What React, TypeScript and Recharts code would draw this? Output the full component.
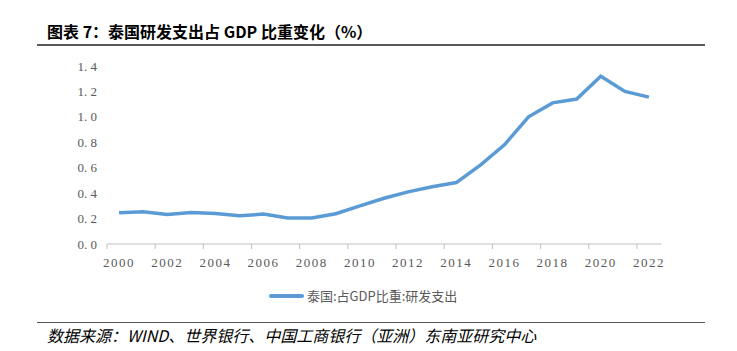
import { CartesianGrid, Line, LineChart, XAxis, YAxis } from "recharts";

const years = [
  "2000", "2001", "2002", "2003", "2004", "2005", "2006", "2007", "2008",
  "2009", "2010", "2011", "2012", "2013", "2014", "2015", "2016", "2017",
  "2018", "2019", "2020", "2021", "2022",
];

const rdShare = [
  0.245, 0.253, 0.232, 0.248, 0.24, 0.222, 0.235, 0.204, 0.204, 0.238, 0.3,
  0.36, 0.41, 0.45, 0.483, 0.62, 0.78, 1.0, 1.11, 1.14, 1.32, 1.2, 1.155,
];

const yTicks = [0, 0.2, 0.4, 0.6, 0.8, 1.0, 1.2, 1.4];

const data = years.map((year, i) => ({ year, value: rdShare[i] }));

const CHART_W = 737;
const MARGIN_LEFT = 0;
const Y_AXIS_W = 107;
const MARGIN_RIGHT = 76;
const PLOT_W = CHART_W - MARGIN_LEFT - Y_AXIS_W - MARGIN_RIGHT;
const BAND = PLOT_W / years.length;

const LINE_COLOR = "#5B9BD5";
const TICK_COLOR = "#595959";
const AXIS_COLOR = "#BFBFBF";
const tickFont = "'Liberation Serif', 'DejaVu Serif', serif";

// label sits in the middle of the year's band, tick mark on the band's left edge
function YearTick(props: any) {
  const { x, y, payload } = props;
  const left = x - BAND / 2;
  const axisY = y - 8;
  return (
    <g>
      <line x1={left} y1={axisY} x2={left} y2={axisY + 5} stroke={AXIS_COLOR} />
      <text
        x={x}
        y={y + 15}
        textAnchor="middle"
        fill={TICK_COLOR}
        fontSize={13}
        fontFamily={tickFont}
        letterSpacing={1.5}
      >
        {payload.value}
      </text>
    </g>
  );
}

export default function App() {
  return (
    <div
      style={{
        position: "absolute",
        left: 0,
        top: 0,
        width: 737,
        height: 351,
        background: "#fff",
        fontFamily: "'Noto Sans CJK SC', sans-serif",
      }}
    >
      <div
        style={{
          position: "absolute",
          left: 47,
          top: 21,
          fontSize: 16,
          fontWeight: 700,
          color: "#000",
          whiteSpace: "nowrap",
          lineHeight: "20px",
        }}
      >
        图表 7：泰国研发支出占 GDP 比重变化（%）
      </div>
      <div
        style={{
          position: "absolute",
          left: 37,
          top: 44,
          width: 668,
          height: 2,
          background: "#595959",
        }}
      />

      <div style={{ position: "absolute", left: 0, top: 0 }}>
        <LineChart
          width={CHART_W}
          height={280}
          data={data}
          margin={{ top: 66, right: MARGIN_RIGHT, bottom: 6, left: MARGIN_LEFT }}
        >
          <CartesianGrid horizontal={false} vertical={false} />
          <XAxis
            dataKey="year"
            scale="band"
            interval={1}
            height={30}
            axisLine={{ stroke: AXIS_COLOR }}
            tickLine={false}
            tick={<YearTick />}
          />
          <YAxis
            width={Y_AXIS_W}
            domain={[0, 1.4]}
            ticks={yTicks}
            axisLine={false}
            tickLine={false}
            tickMargin={4}
            tickFormatter={(v: number) => v.toFixed(1).replace(".", ". ")}
            tick={{ fill: TICK_COLOR, fontSize: 13, fontFamily: tickFont, style: { whiteSpace: "pre" } }}
          />
          <Line
            type="linear"
            dataKey="value"
            stroke={LINE_COLOR}
            strokeWidth={3.5}
            dot={false}
            isAnimationActive={false}
          />
        </LineChart>
      </div>

      <div
        style={{
          position: "absolute",
          left: 269,
          top: 287,
          display: "flex",
          alignItems: "center",
          whiteSpace: "nowrap",
        }}
      >
        <div style={{ width: 35, height: 4, background: LINE_COLOR, borderRadius: 2 }} />
        <span
          style={{
            marginLeft: 3,
            fontSize: 13,
            color: TICK_COLOR,
            fontFamily: "'Noto Sans CJK SC', serif",
            lineHeight: "18px",
          }}
        >
          泰国:占GDP比重:研发支出
        </span>
      </div>

      <div
        style={{
          position: "absolute",
          left: 37,
          top: 322,
          width: 668,
          height: 1,
          background: "#595959",
        }}
      />
      <div
        style={{
          position: "absolute",
          left: 47,
          top: 325,
          fontSize: 16,
          fontStyle: "italic",
          color: "#000",
          whiteSpace: "nowrap",
          lineHeight: "20px",
        }}
      >
        数据来源：WIND、世界银行、中国工商银行（亚洲）东南亚研究中心
      </div>
    </div>
  );
}
